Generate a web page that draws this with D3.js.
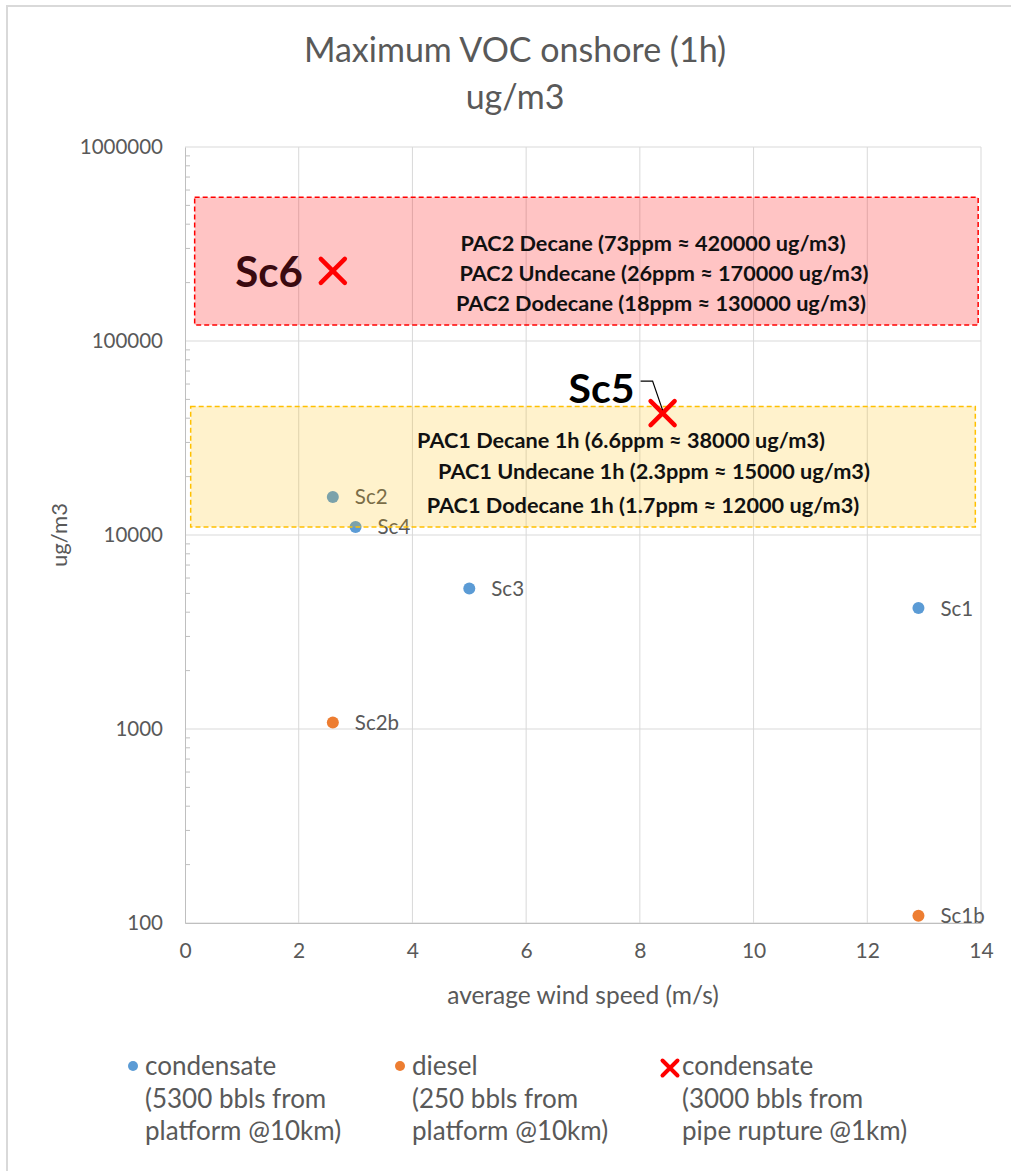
<!DOCTYPE html>
<html><head><meta charset="utf-8">
<script src="https://cdn.jsdelivr.net/npm/d3@7"></script>
<style>html,body{margin:0;background:#fff;overflow:hidden}svg{display:block}</style>
</head><body>
<script>
// ---- data ----
const condensateNames = ["Sc1","Sc2","Sc3","Sc4"];
const condensateSpeed = [12.9, 2.6, 5.0, 3.0];
const condensateVOC   = [4200, 15700, 5300, 11000];
const dieselNames = ["Sc2b","Sc1b"];
const dieselSpeed = [2.6, 12.9];
const dieselVOC   = [1080, 109];
const ruptureNames = ["Sc6","Sc5"];
const ruptureSpeed = [2.6, 8.4];
const ruptureVOC   = [230000, 42500];
const xTicks = [0,2,4,6,8,10,12,14];
const yTicks = [100,1000,10000,100000,1000000];
const pac2Lines = ["PAC2 Decane (73ppm \u2248 420000 ug/m3)","PAC2 Undecane (26ppm \u2248 170000 ug/m3)","PAC2 Dodecane (18ppm \u2248 130000 ug/m3)"];
const pac1Lines = ["PAC1 Decane 1h (6.6ppm \u2248 38000 ug/m3)","PAC1 Undecane 1h (2.3ppm \u2248 15000 ug/m3)","PAC1 Dodecane 1h (1.7ppm \u2248 12000 ug/m3)"];
const pac2Range = {x:[0.17,13.95], y:[121000,550000]};
const pac1Range = {x:[0.1,13.9], y:[11000,46000]};
const legendItems = [
  {type:"circle", color:"#5b9bd5", lines:["condensate","(5300 bbls from","platform @10km)"]},
  {type:"circle", color:"#ed7d31", lines:["diesel","(250 bbls from","platform @10km)"]},
  {type:"cross",  color:"#ff0000", lines:["condensate","(3000 bbls from","pipe rupture @1km)"]}
];

const W=1011,H=1171;
const FONT="Lato, 'Open Sans', sans-serif";
const GREY="#595959";
const svg=d3.select("body").append("svg").attr("width",W).attr("height",H);
// chart border
svg.append("rect").attr("x",7).attr("y",6).attr("width",1010).attr("height",1180)
  .attr("fill","#fff").attr("stroke","#d9d9d9").attr("stroke-width",2);

const m={l:185,r:981,t:147,b:923};
const x=d3.scaleLinear().domain([0,14]).range([m.l,m.r]);
const y=d3.scaleLog().domain([100,1000000]).range([m.b,m.t]);

// title
svg.append("text").attr("x",515).attr("y",62).attr("text-anchor","middle")
  .attr("font-family",FONT).attr("font-size",34).attr("fill",GREY).text("Maximum VOC onshore (1h)");
svg.append("text").attr("x",515).attr("y",109).attr("text-anchor","middle")
  .attr("font-family",FONT).attr("font-size",34).attr("fill",GREY).text("ug/m3");

// grid
const g=svg.append("g");
g.selectAll("line.vx").data(xTicks.slice(1)).join("line")
  .attr("x1",d=>x(d)).attr("x2",d=>x(d)).attr("y1",m.t).attr("y2",m.b)
  .attr("stroke","#d9d9d9").attr("stroke-width",1);
g.selectAll("line.hy").data(yTicks).join("line")
  .attr("x1",m.l).attr("x2",m.r).attr("y1",d=>y(d)).attr("y2",d=>y(d))
  .attr("stroke","#d9d9d9").attr("stroke-width",1);

// axes
const yAxis=d3.axisLeft(y).tickValues(yTicks).tickFormat(d3.format("d")).tickSize(0).tickPadding(22);
const ya=svg.append("g").attr("transform",`translate(${m.l},0)`).call(yAxis);
ya.select(".domain").attr("stroke","#bfbfbf");
ya.selectAll("text").attr("font-family",FONT).attr("font-size",20.5).attr("fill",GREY);
// minor ticks inside
const minors=[];
[100,1000,10000,100000].forEach(p=>{for(let k=2;k<=9;k++)minors.push(p*k);});
svg.append("g").selectAll("line").data(minors).join("line")
  .attr("x1",m.l).attr("x2",m.l+5).attr("y1",d=>y(d)).attr("y2",d=>y(d)).attr("stroke","#bfbfbf");

const xAxis=d3.axisBottom(x).tickValues(xTicks).tickSize(0).tickPadding(20);
const xa=svg.append("g").attr("transform",`translate(0,${m.b})`).call(xAxis);
xa.select(".domain").attr("stroke","#bfbfbf");
xa.selectAll("text").attr("font-family",FONT).attr("font-size",21).attr("fill",GREY);

svg.append("text").attr("x",583).attr("y",1004).attr("text-anchor","middle")
  .attr("font-family",FONT).attr("font-size",24.5).attr("fill",GREY).text("average wind speed (m/s)");
svg.append("text").attr("transform","translate(67,535) rotate(-90)").attr("text-anchor","middle")
  .attr("font-family",FONT).attr("font-size",22).attr("fill",GREY).text("ug/m3");

// points and labels
function pts(names,sx,sy,color){
  const d=names.map((n,i)=>({n,x:sx[i],y:sy[i]}));
  svg.append("g").selectAll("circle").data(d).join("circle")
    .attr("cx",p=>x(p.x)).attr("cy",p=>y(p.y)).attr("r",6).attr("fill",color);
  svg.append("g").selectAll("text").data(d).join("text")
    .attr("x",p=>x(p.x)+22).attr("y",p=>y(p.y)+7.5)
    .attr("font-family",FONT).attr("font-size",20.5).attr("fill",GREY).text(p=>p.n);
}
pts(condensateNames,condensateSpeed,condensateVOC,"#5b9bd5");
pts(dieselNames,dieselSpeed,dieselVOC,"#ed7d31");

// boxes
function box(r,fill,op,stroke){
  svg.append("rect").attr("x",x(r.x[0])).attr("y",y(r.y[1]))
    .attr("width",x(r.x[1])-x(r.x[0])).attr("height",y(r.y[0])-y(r.y[1]))
    .attr("fill",fill).attr("fill-opacity",op).attr("stroke",stroke)
    .attr("stroke-width",1.5).attr("stroke-dasharray","5,3");
}
box(pac2Range,"#ff0000",0.23,"#ff0000");
box(pac1Range,"#ffc000",0.2,"#ffc000");

function boxText(lines,cxs,ys){
  svg.append("g").selectAll("text").data(lines).join("text")
    .attr("x",(d,i)=>cxs[i]).attr("y",(d,i)=>ys[i]).attr("text-anchor","middle")
    .attr("font-family",FONT).attr("font-weight","bold").attr("font-size",21.7).attr("fill","#111").text(d=>d);
}
boxText(pac2Lines,[653,664,661],[251,281,311]);
boxText(pac1Lines,[621,654,643],[448,479,513]);

// crosses
function cross(cx,cy,s,color,w){
  svg.append("path").attr("d",`M${cx-s},${cy-s}L${cx+s},${cy+s}M${cx-s},${cy+s}L${cx+s},${cy-s}`)
    .attr("stroke",color).attr("stroke-width",w).attr("stroke-linecap","round").attr("fill","none");
}
ruptureNames.forEach((n,i)=>cross(x(ruptureSpeed[i]),y(ruptureVOC[i]),12,"#ff0000",4.5));

// Sc6 / Sc5 labels
const sc6=[x(ruptureSpeed[0]),y(ruptureVOC[0])];
svg.append("text").attr("x",sc6[0]-30).attr("y",sc6[1]+16).attr("text-anchor","end")
  .attr("font-family",FONT).attr("font-weight","bold").attr("font-size",42).attr("fill","#3a0a10").text(ruptureNames[0]);
const sc5=[x(ruptureSpeed[1]),y(ruptureVOC[1])];
svg.append("text").attr("x",sc5[0]-28).attr("y",sc5[1]-10).attr("text-anchor","end")
  .attr("font-family",FONT).attr("font-weight","bold").attr("font-size",41).attr("fill","#000").text(ruptureNames[1]);
svg.append("path").attr("d",`M${sc5[0]-22},${sc5[1]-32}L${sc5[0]-10},${sc5[1]-32}L${sc5[0]},${sc5[1]-3}`)
  .attr("stroke","#000").attr("stroke-width",1.2).attr("fill","none");

// legend
const lx=[133,400,670];
legendItems.forEach((it,i)=>{
  const gx=lx[i];
  if(it.type==="circle") svg.append("circle").attr("cx",gx).attr("cy",1066).attr("r",5).attr("fill",it.color);
  else cross(gx,1068,7.5,it.color,4);
  svg.append("g").selectAll("text").data(it.lines).join("text")
    .attr("x",gx+12).attr("y",(d,j)=>1075+j*32.5)
    .attr("font-family",FONT).attr("font-size",26).attr("fill",GREY).text(d=>d);
});
</script>
</body></html>
